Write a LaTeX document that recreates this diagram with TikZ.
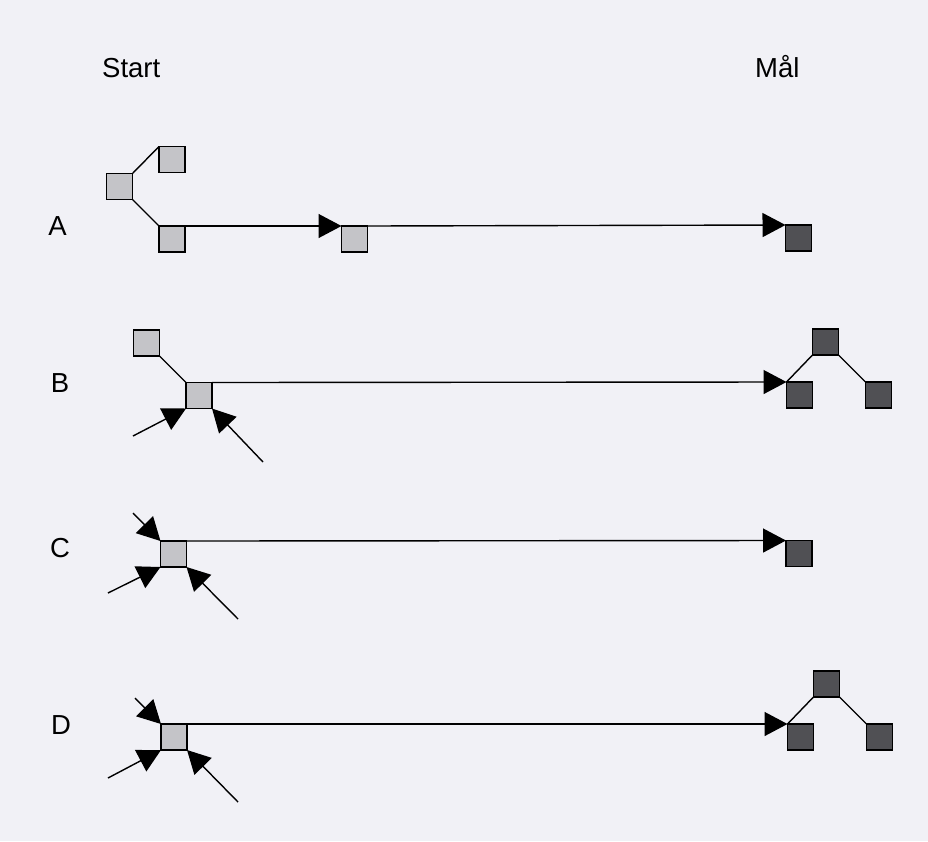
\documentclass[tikz,border=0pt]{standalone}
\usepackage{fontspec}
\setmainfont{Liberation Sans}
\usetikzlibrary{arrows.meta}
\definecolor{bg}{RGB}{241,241,246}
\definecolor{lightsq}{RGB}{196,196,200}
\definecolor{darksq}{RGB}{80,80,84}
\tikzset{
  x=1pt, y=-1pt,
  sq/.style={draw=black, line width=1.4pt, minimum size=26pt, inner sep=0pt, outer sep=0pt},
  lsq/.style={sq, fill=lightsq},
  dsq/.style={sq, fill=darksq},
  conn/.style={line width=1.4pt},
  arr/.style={line width=1.4pt, -{Triangle[length=23pt,width=24pt]}},
  lbl/.style={font=\fontsize{27.5}{32}\selectfont, inner sep=0pt, text=black},
}
\begin{document}
\begin{tikzpicture}
\fill[bg] (0,0) rectangle (928,841);
\useasboundingbox (0,0) rectangle (928,841);

% headings
\node[lbl, anchor=base west] (start) at (102,77) {Start};
\node[lbl, anchor=base west] (maal) at (755,77) {Mål};

% row labels
\node[lbl] (lA) at (57.5,226) {A};
\node[lbl] (lB) at (60,383) {B};
\node[lbl] (lC) at (60,548) {C};
\node[lbl] (lD) at (61,725) {D};

% Row A
\node[lsq] (a1) at (119.5,186.5) {};
\node[lsq] (a2) at (172,159.5) {};
\node[lsq] (a3) at (172,239) {};
\node[lsq] (a4) at (354.5,239) {};
\node[dsq] (af) at (798.5,238) {};
\draw[conn] (a1.north east) -- (a2.north west);
\draw[conn] (a1.south east) -- (a3.north west);
\draw[arr] (a3.north east) -- (a4.north west);
\draw[arr] (a4.north east) -- (af.north west);

% Row B
\node[lsq] (b1) at (146.5,343) {};
\node[lsq] (b2) at (199,395.5) {};
\node[dsq] (bf1) at (799.5,395) {};
\node[dsq] (bf2) at (825.5,342) {};
\node[dsq] (bf3) at (878.5,395) {};
\coordinate (b3) at (133,436);
\coordinate (b4) at (263,462);
\draw[conn] (b1.south east) -- (b2.north west);
\draw[arr] (b3) -- (b2.south west);
\draw[arr] (b4) -- (b2.south east);
\draw[arr] (b2.north east) -- (bf1.north west);
\draw[conn] (bf1.north west) -- (bf2.south west);
\draw[conn] (bf2.south east) -- (bf3.north west);

% Row C
\node[lsq] (c1) at (173.5,554) {};
\node[dsq] (cf) at (799,553.5) {};
\coordinate (c2) at (133,513);
\coordinate (c3) at (108,593);
\coordinate (c4) at (238,619);
\draw[arr] (c2) -- (c1.north west);
\draw[arr] (c3) -- (c1.south west);
\draw[arr] (c4) -- (c1.south east);
\draw[arr] (c1.north east) -- (cf.north west);

% Row D
\node[lsq] (d1) at (174,737) {};
\node[dsq] (df1) at (800.5,737) {};
\node[dsq] (df2) at (826.5,684) {};
\node[dsq] (df3) at (879.5,737) {};
\coordinate (d2) at (135,698);
\coordinate (d3) at (108,778);
\coordinate (d4) at (238,802);
\draw[arr] (d2) -- (d1.north west);
\draw[arr] (d3) -- (d1.south west);
\draw[arr] (d4) -- (d1.south east);
\draw[arr] (d1.north east) -- (df1.north west);
\draw[conn] (df1.north west) -- (df2.south west);
\draw[conn] (df2.south east) -- (df3.north west);
\end{tikzpicture}
\end{document}
